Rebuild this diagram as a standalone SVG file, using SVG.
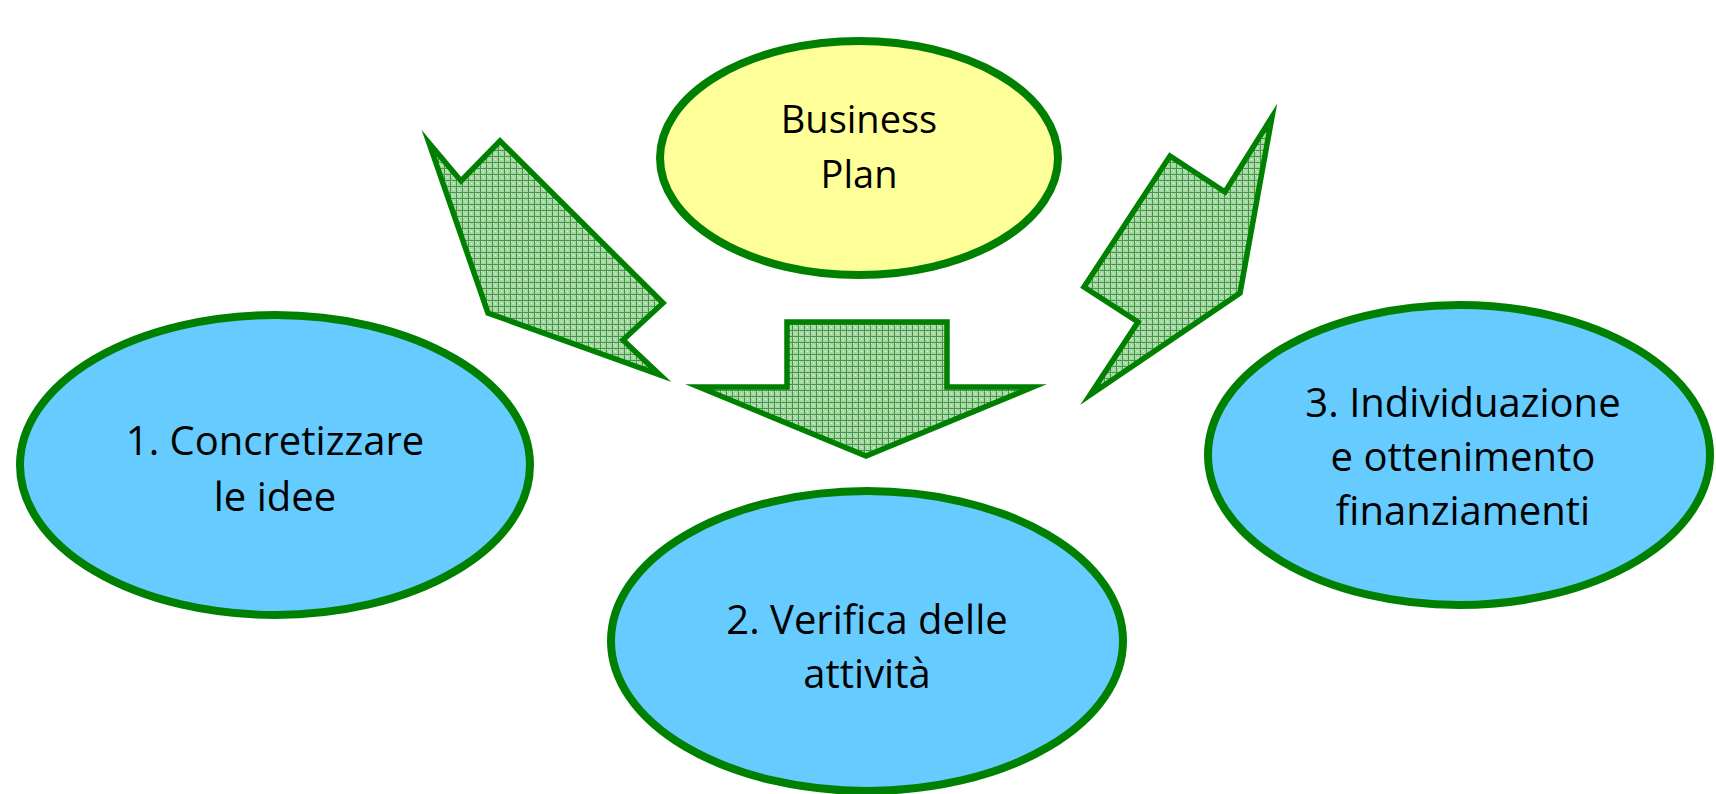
<svg xmlns="http://www.w3.org/2000/svg" width="1716" height="794" viewBox="0 0 1716 794">
<style>
.node{stroke:#008000;stroke-width:8}
.blue{fill:#66CCFF}
.yellow{fill:#FFFF99}
.arrow{fill:url(#hatch);stroke:#008000;stroke-width:5.5;stroke-linejoin:miter;stroke-miterlimit:10}
.lbl{font-family:"Open Sans","Liberation Sans",sans-serif;font-size:40px;fill:#000;text-anchor:middle}
.bp{font-size:38px}
</style>
<defs>
<pattern id="hatch" width="6" height="6" patternUnits="userSpaceOnUse">
<rect width="6" height="6" fill="#a9d6a9"/>
<rect x="1" y="1" width="1" height="1" fill="#e8f4e8"/>
<rect x="3" y="3" width="1" height="1" fill="#e8f4e8"/>
<path d="M0 0.5H6M0.5 0V6" stroke="#3d9a3d" stroke-width="1"/>
</pattern>
</defs>
<rect width="1716" height="794" fill="#ffffff"/>
<g id="connectors">
<polygon class="arrow" points="429,143 461,181 500,141 663,303 623,340 660,375 488,313"/>
<polygon class="arrow" points="787,322 947,322 947,387 1033,387 866,456 699,387 787,387"/>
<polygon class="arrow" points="1272,117 1240,293 1090,395 1138,322 1084,287 1170,156 1225,192"/>
</g>
<g id="node-business-plan">
<ellipse class="node yellow" cx="859" cy="158" rx="199" ry="117"/>
<text class="lbl bp" x="859" y="133">Business</text>
<text class="lbl bp" x="859" y="188">Plan</text>
</g>
<g id="node-1">
<ellipse class="node blue" cx="275" cy="465" rx="255" ry="150"/>
<text class="lbl" x="275" y="455">1. Concretizzare</text>
<text class="lbl" x="275" y="511">le idee</text>
</g>
<g id="node-2">
<ellipse class="node blue" cx="867" cy="641" rx="256" ry="150"/>
<text class="lbl" x="867" y="634">2. Verifica delle</text>
<text class="lbl" x="867" y="688">attività</text>
</g>
<g id="node-3">
<ellipse class="node blue" cx="1459" cy="455" rx="251" ry="150"/>
<text class="lbl" x="1463" y="417">3. Individuazione</text>
<text class="lbl" x="1463" y="471">e ottenimento</text>
<text class="lbl" x="1463" y="525">finanziamenti</text>
</g>
</svg>
